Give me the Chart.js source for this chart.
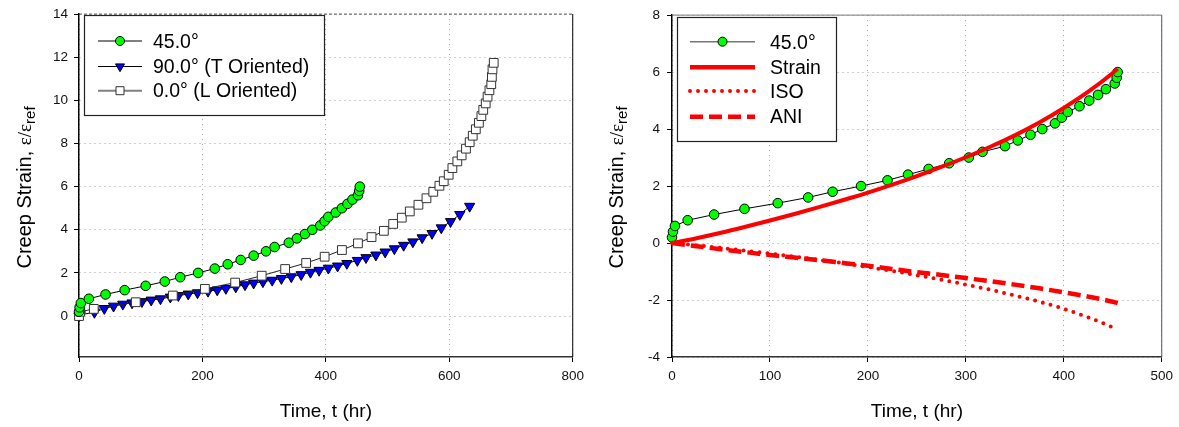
<!DOCTYPE html>
<html>
<head>
<meta charset="utf-8">
<script src="https://cdn.jsdelivr.net/npm/chart.js@4.4.1/dist/chart.umd.min.js"></script>
<style>
  html, body { margin: 0; padding: 0; background: #fff; }
  #wrap { position: relative; width: 1179px; height: 427px; }
  .box { position: absolute; top: 0; height: 427px; }
</style>
</head>
<body>
<div id="wrap">
  <div class="box" style="left:0;width:590px"><canvas id="chartLeft"></canvas></div>
  <div class="box" style="left:590px;width:589px"><canvas id="chartRight"></canvas></div>
</div>
<script>
// Textos
const xTitle = 'Time, t (hr)';
const seriesLeft = ['45.0°', '90.0° (T Oriented)', '0.0° (L Oriented)'];
const seriesRight = ['45.0°', 'Strain', 'ISO', 'ANI'];

// Ticks
const leftYTicks = [0, 2, 4, 6, 8, 10, 12, 14];
const rightYTicks = [-4, -2, 0, 2, 4, 6, 8];

// 45.0° (mesmos dados nos dois gráficos)
const t45 = [0, 1, 3, 16, 43, 74, 108, 139, 164, 193, 220, 241, 262, 283, 303, 317, 340, 353, 366, 378, 391, 398, 404, 416, 426, 435, 443, 452, 454, 455];
const e45 = [0.2, 0.4, 0.6, 0.8, 1.0, 1.2, 1.4, 1.6, 1.8, 2.0, 2.2, 2.4, 2.6, 2.8, 3.0, 3.2, 3.4, 3.6, 3.8, 4.0, 4.2, 4.4, 4.6, 4.8, 5.0, 5.2, 5.4, 5.6, 5.8, 6.0];

// 90.0° (T Oriented)
const t90 = [0, 2, 25, 41, 56, 71, 86, 102, 117, 132, 148, 161, 177, 192, 209, 224, 238, 254, 269, 283, 298, 313, 328, 344, 360, 375, 389, 404, 419, 434, 451, 465, 481, 496, 511, 526, 541, 556, 572, 587, 602, 617, 633];
const e90 = [0, 0.06, 0.17, 0.35, 0.46, 0.55, 0.61, 0.67, 0.74, 0.8, 0.88, 0.95, 1.02, 1.08, 1.15, 1.21, 1.28, 1.35, 1.45, 1.53, 1.59, 1.66, 1.74, 1.82, 1.92, 2.03, 2.12, 2.22, 2.32, 2.44, 2.58, 2.71, 2.83, 2.97, 3.12, 3.28, 3.44, 3.63, 3.83, 4.09, 4.38, 4.71, 5.09];

// 0.0° (L Oriented)
const t0 = [0, 2, 24, 92, 152, 204, 253, 296, 334, 368, 398, 426, 452, 474, 494, 509, 523, 536, 550, 563, 574, 584, 591, 599, 605, 613, 620, 627, 633, 638, 643, 648, 652, 655, 659, 662, 665, 668, 669, 670, 672];
const e0 = [0, 0.2, 0.33, 0.64, 0.95, 1.26, 1.55, 1.87, 2.18, 2.46, 2.75, 3.06, 3.37, 3.66, 3.95, 4.27, 4.56, 4.85, 5.16, 5.46, 5.76, 6.04, 6.25, 6.55, 6.86, 7.17, 7.45, 7.76, 8.06, 8.36, 8.66, 8.96, 9.27, 9.56, 9.86, 10.17, 10.47, 10.75, 11.09, 11.44, 11.74];

// Curvas do modelo (gráfico da direita)
const tModel = [0, 25, 50, 75, 100, 125, 150, 175, 200, 225, 250, 275, 300, 325, 350, 375, 400, 425, 450, 455];
const strain = [0, 0.17, 0.36, 0.57, 0.79, 1.02, 1.26, 1.51, 1.77, 2.05, 2.35, 2.67, 3.01, 3.38, 3.78, 4.23, 4.74, 5.31, 5.97, 6.12];
const iso = [0, -0.08, -0.17, -0.27, -0.37, -0.48, -0.59, -0.71, -0.84, -0.98, -1.13, -1.29, -1.46, -1.64, -1.84, -2.06, -2.31, -2.61, -2.96, -3.05];
const ani = [0, -0.11, -0.22, -0.32, -0.42, -0.51, -0.6, -0.7, -0.8, -0.91, -1.02, -1.12, -1.23, -1.34, -1.46, -1.59, -1.73, -1.88, -2.06, -2.11];

const FONT = '"Liberation Sans", Arial, sans-serif';

function pts(xs, ys) {
    return xs.map((x, i) => ({ x: x, y: ys[i] }));
}

function drawMarker(ctx, type, x, y) {
    ctx.save();
    ctx.lineWidth = 1;
    ctx.strokeStyle = '#000';
    ctx.beginPath();
    if (type === 'circle') {
        ctx.fillStyle = '#00ff00';
        ctx.arc(x, y, 4.5, 0, Math.PI * 2);
    } else if (type === 'tri') {
        const r = 5.2;
        ctx.fillStyle = '#0000ff';
        ctx.moveTo(x, y + r);
        ctx.lineTo(x - r * 0.866, y - r / 2);
        ctx.lineTo(x + r * 0.866, y - r / 2);
        ctx.closePath();
    } else if (type === 'rect') {
        ctx.fillStyle = '#fff';
        ctx.strokeStyle = '#333';
        ctx.rect(x - 4, y - 4, 8, 8);
    }
    ctx.fill();
    ctx.stroke();
    ctx.restore();
}

function drawYTitle(ctx, x, yc) {
    const parts = [
        { t: 'Creep Strain, ', f: '20px ' + FONT, dy: 0 },
        { t: 'ε/ε', f: '19px "Liberation Serif", serif', dy: 0 },
        { t: 'ref', f: '15px ' + FONT, dy: 4 }
    ];
    ctx.save();
    ctx.translate(x, yc);
    ctx.rotate(-Math.PI / 2);
    let total = 0;
    parts.forEach(p => { ctx.font = p.f; p.w = ctx.measureText(p.t).width; total += p.w; });
    let cx = -total / 2;
    ctx.textAlign = 'left';
    ctx.textBaseline = 'alphabetic';
    ctx.fillStyle = '#000';
    parts.forEach(p => { ctx.font = p.f; ctx.fillText(p.t, cx, p.dy); cx += p.w; });
    ctx.restore();
}

// Plugin: títulos dos eixos, legenda e bordas
function decor(opts) {
    return {
        id: 'decor',
        afterDraw(chart) {
            const ctx = chart.ctx, a = chart.chartArea;
            ctx.save();
            // bordas direita/superior
            ctx.lineWidth = 1;
            ctx.strokeStyle = opts.rightColor;
            ctx.beginPath();
            ctx.moveTo(a.right, a.top);
            ctx.lineTo(a.right, a.bottom);
            ctx.stroke();
            ctx.strokeStyle = opts.topColor;
            ctx.setLineDash(opts.topDash);
            ctx.beginPath();
            ctx.moveTo(a.left, a.top);
            ctx.lineTo(a.right, a.top);
            ctx.stroke();
            ctx.setLineDash([]);

            // título do eixo x
            ctx.fillStyle = '#000';
            ctx.font = '19px ' + FONT;
            ctx.textAlign = 'center';
            ctx.textBaseline = 'alphabetic';
            ctx.fillText(xTitle, (a.left + a.right) / 2, 417);

            drawYTitle(ctx, opts.yTitleX, 187.5);

            // legenda
            const L = opts.legend;
            ctx.fillStyle = '#fff';
            ctx.fillRect(L.x, L.y, L.w, L.h);
            ctx.lineWidth = 1.2;
            ctx.strokeStyle = '#222';
            ctx.strokeRect(L.x + 0.5, L.y + 0.5, L.w, L.h);
            L.items.forEach(it => {
                ctx.save();
                ctx.strokeStyle = it.color;
                ctx.lineWidth = it.width;
                ctx.lineCap = it.cap || 'butt';
                ctx.setLineDash(it.dash || []);
                ctx.beginPath();
                ctx.moveTo(L.lineX1, it.ly);
                ctx.lineTo(L.lineX2, it.ly);
                ctx.stroke();
                ctx.restore();
                if (it.marker) drawMarker(ctx, it.marker, (L.lineX1 + L.lineX2) / 2, it.ly);
                ctx.fillStyle = '#000';
                ctx.font = '19.5px ' + FONT;
                ctx.textAlign = 'left';
                ctx.textBaseline = 'alphabetic';
                ctx.fillText(it.label, L.textX, it.by);
            });
            ctx.restore();
        }
    };
}

function axes(xmin, xmax, xstep, ymin, ymax, yTicks, yWidth, yPad) {
    const grid = {
        color: '#a0a0a0',
        lineWidth: 1,
        tickLength: 5,
        tickColor: '#000',
        tickWidth: 1
    };
    const tickFont = { family: FONT, size: 13.5 };
    return {
        x: {
            type: 'linear',
            min: xmin, max: xmax,
            ticks: { stepSize: xstep, font: tickFont, color: '#111', padding: 6, maxRotation: 0 },
            grid: grid,
            border: { color: '#333', width: 1.5, dash: [1, 4] },
            afterFit(s) { s.height = 427 - 357; }
        },
        y: {
            type: 'linear',
            min: ymin, max: ymax,
            ticks: { font: tickFont, color: '#111', padding: yPad },
            afterBuildTicks(s) { s.ticks = yTicks.map(v => ({ value: v })); },
            grid: grid,
            border: { color: '#000', width: 1.5, dash: [1, 4] },
            afterFit(s) { s.width = yWidth; }
        }
    };
}

// Gráfico da esquerda
new Chart(document.getElementById('chartLeft').getContext('2d'), {
    type: 'scatter',
    data: {
        datasets: [{
            label: seriesLeft[0],
            data: pts(t45, e45),
            showLine: true,
            borderColor: '#000',
            borderWidth: 1,
            pointStyle: 'circle',
            pointRadius: 4.8,
            pointBackgroundColor: '#00ff00',
            pointBorderColor: '#000',
            pointBorderWidth: 1,
            clip: false,
            order: 1
        }, {
            label: seriesLeft[1],
            data: pts(t90, e90),
            showLine: true,
            borderColor: '#000',
            borderWidth: 1,
            pointStyle: 'triangle',
            rotation: 180,
            pointRadius: 5.9,
            pointBackgroundColor: '#0000ff',
            pointBorderColor: '#000',
            pointBorderWidth: 1,
            clip: false,
            order: 3
        }, {
            label: seriesLeft[2],
            data: pts(t0, e0),
            showLine: true,
            borderColor: '#222',
            borderWidth: 1,
            pointStyle: 'rect',
            pointRadius: 6.2,
            pointBackgroundColor: '#fff',
            pointBorderColor: '#333',
            pointBorderWidth: 1,
            clip: false,
            order: 2
        }]
    },
    options: {
        responsive: true,
        maintainAspectRatio: false,
        animation: false,
        events: [],
        layout: { padding: { top: 11, right: 17, left: 0, bottom: 0 } },
        scales: axes(0, 800, 200, -1.9, 14, leftYTicks, 79, 6),
        plugins: { legend: { display: false }, tooltip: { enabled: false } }
    },
    plugins: [decor({
        yTitleX: 31,
        rightColor: '#000',
        topColor: '#555',
        topDash: [3, 2],
        legend: {
            x: 84, y: 15, w: 240, h: 100,
            lineX1: 98, lineX2: 142, textX: 153,
            items: [
                { label: seriesLeft[0], color: '#000', width: 1, marker: 'circle', ly: 41, by: 48.3 },
                { label: seriesLeft[1], color: '#000', width: 1.2, marker: 'tri', ly: 66.5, by: 73.3 },
                { label: seriesLeft[2], color: '#808080', width: 2, marker: 'rect', ly: 90.7, by: 97.3 }
            ]
        }
    })]
});

// Gráfico da direita
new Chart(document.getElementById('chartRight').getContext('2d'), {
    type: 'scatter',
    data: {
        datasets: [{
            label: seriesRight[0],
            data: pts(t45, e45),
            showLine: true,
            borderColor: '#000',
            borderWidth: 1,
            pointStyle: 'circle',
            pointRadius: 4.8,
            pointBackgroundColor: '#00ff00',
            pointBorderColor: '#000',
            pointBorderWidth: 1,
            clip: false,
            order: 2
        }, {
            label: seriesRight[1],
            data: pts(tModel, strain),
            showLine: true,
            borderColor: '#ff0000',
            borderWidth: 4,
            pointRadius: 0,
            cubicInterpolationMode: 'monotone',
            clip: false,
            order: 1
        }, {
            label: seriesRight[2],
            data: pts(tModel, iso),
            showLine: true,
            borderColor: '#ff0000',
            borderWidth: 4,
            borderDash: [0, 8],
            borderCapStyle: 'round',
            pointRadius: 0,
            cubicInterpolationMode: 'monotone',
            clip: false,
            order: 1
        }, {
            label: seriesRight[3],
            data: pts(tModel, ani),
            showLine: true,
            borderColor: '#ff0000',
            borderWidth: 4.5,
            borderDash: [13, 6],
            pointRadius: 0,
            cubicInterpolationMode: 'monotone',
            clip: false,
            order: 1
        }]
    },
    options: {
        responsive: true,
        maintainAspectRatio: false,
        animation: false,
        events: [],
        layout: { padding: { top: 12, right: 15, left: 0, bottom: 0 } },
        scales: axes(0, 500, 100, -4, 8, rightYTicks, 82, 7),
        plugins: { legend: { display: false }, tooltip: { enabled: false } }
    },
    plugins: [decor({
        yTitleX: 33,
        rightColor: '#555',
        topColor: '#777',
        topDash: [],
        legend: {
            x: 87, y: 17, w: 159, h: 124,
            lineX1: 100, lineX2: 165, textX: 180,
            items: [
                { label: seriesRight[0], color: '#777', width: 1.5, marker: 'circle', ly: 41.7, by: 49.3 },
                { label: seriesRight[1], color: '#ff0000', width: 4.5, ly: 67.3, by: 74.3 },
                { label: seriesRight[2], color: '#ff0000', width: 4, dash: [0, 8], cap: 'round', ly: 91, by: 98.3 },
                { label: seriesRight[3], color: '#ff0000', width: 4.5, dash: [13, 6], ly: 116.7, by: 123.3 }
            ]
        }
    })]
});
</script>
</body>
</html>
